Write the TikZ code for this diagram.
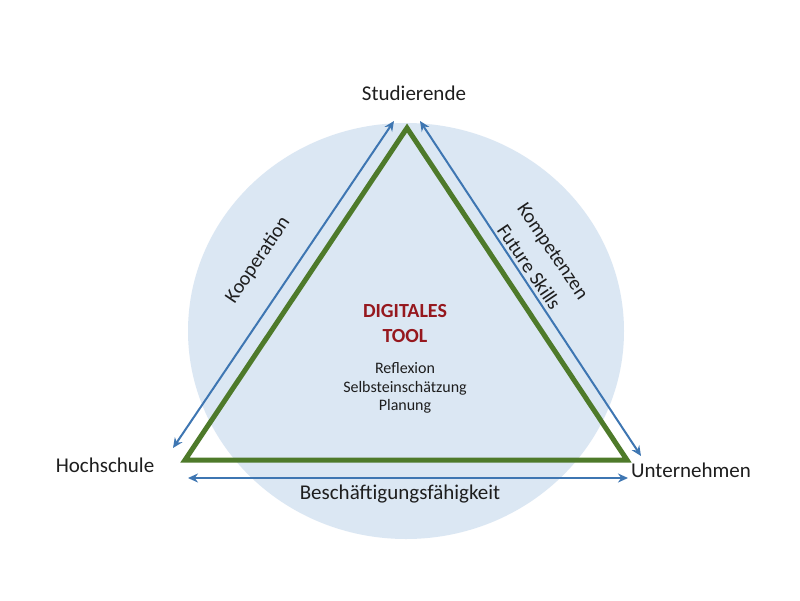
\documentclass[tikz,border=0pt]{standalone}
\usepackage{fontspec}
\setmainfont{Carlito}
\usetikzlibrary{arrows.meta}
\definecolor{circfill}{RGB}{219,231,243}
\definecolor{trigreen}{RGB}{78,122,42}
\definecolor{arrblue}{RGB}{62,118,178}
\definecolor{toolred}{RGB}{150,24,30}
\definecolor{txt}{RGB}{30,30,30}
\tikzset{
  side/.style={draw=trigreen, line width=5pt, line join=miter},
  biarrow/.style={draw=arrblue, line width=2pt, {Stealth[length=10pt,width=9pt]}-{Stealth[length=10pt,width=9pt]}},
  corner/.style={font=\fontsize{21}{24}\selectfont, text=txt, inner sep=0pt},
  edgelabel/.style={font=\fontsize{21}{25}\selectfont, text=txt, inner sep=0pt, align=center},
  centertext/.style={font=\fontsize{16}{18.5}\selectfont, text=txt, align=center, inner sep=0pt},
}
\begin{document}
\begin{tikzpicture}[x=1pt,y=-1pt]
\useasboundingbox[fill=white] (0,0) rectangle (800,600);
\fill[circfill] (406,331) ellipse [x radius=218, y radius=208];
% triangle corners
\coordinate (A) at (407,128);
\coordinate (B) at (185,460);
\coordinate (C) at (627,460);
\draw[side] (A) -- (B) -- (C) -- cycle;
% arrow ends
\coordinate (l1) at (173,448);
\coordinate (l2) at (394,121);
\coordinate (r1) at (420,121);
\coordinate (r2) at (641,456);
\coordinate (b1) at (188,478);
\coordinate (b2) at (628,478);
\draw[biarrow] (l1) -- (l2);
\draw[biarrow] (r1) -- (r2);
\draw[biarrow] (b1) -- (b2);
% corner labels
\node[corner] (stud) at (414,93) {Studierende};
\node[corner] (hoch) at (105,465) {Hochschule};
\node[corner] (unter) at (691,470) {Unternehmen};
% edge labels
\node[edgelabel] (besch) at (400,494) {Beschäftigungsfähigkeit};
\node[edgelabel, font=\fontsize{20}{25}\selectfont, rotate=56] (koop) at (258,260) {Kooperation};
\node[edgelabel, font=\fontsize{20}{29}\selectfont, rotate=-56] (komp) at (541,259) {Kompetenzen\\Future Skills};
% center
\node[font=\fontsize{20}{25}\selectfont\bfseries, text=toolred, align=center, inner sep=0pt] (tool) at (405,324) {DIGITALES\\TOOL};
\node[centertext] (list) at (405,388) {Reflexion\\Selbsteinschätzung\\Planung};
\end{tikzpicture}
\end{document}
